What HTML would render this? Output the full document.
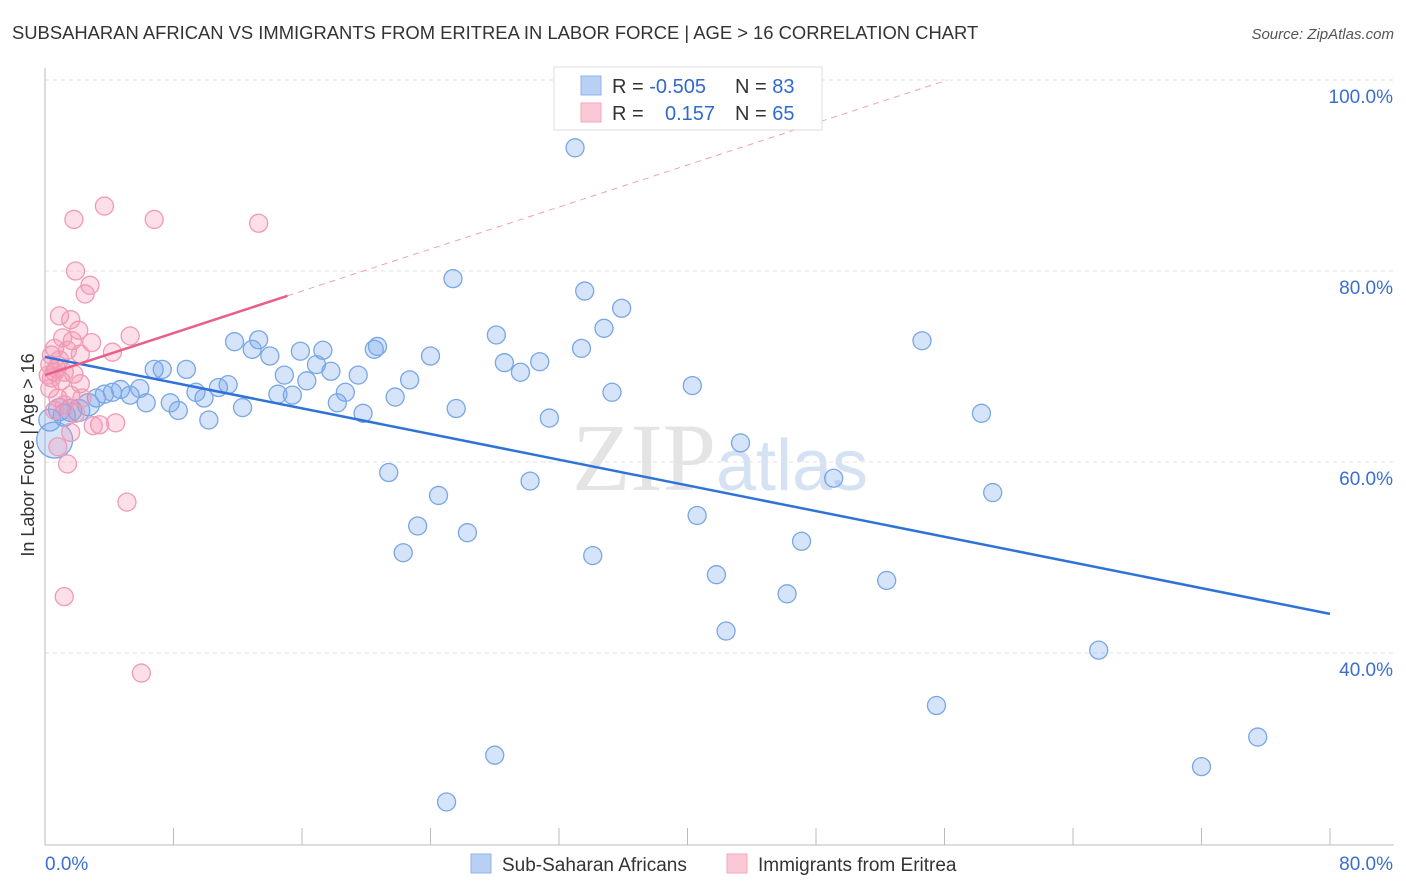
<!DOCTYPE html>
<html><head><meta charset="utf-8"><style>
body{margin:0;background:#fff;font-family:"Liberation Sans",sans-serif;}
svg{display:block}
</style></head><body>
<svg id="chart" width="1406" height="892">
<text x="12" y="39" font-size="18.4" fill="#333">SUBSAHARAN AFRICAN VS IMMIGRANTS FROM ERITREA IN LABOR FORCE | AGE &gt; 16 CORRELATION CHART</text>
<text x="1394" y="39" font-size="15" fill="#555" text-anchor="end" font-style="italic">Source: ZipAtlas.com</text>
<text x="720" y="490" font-size="96" fill="#e4e4e4" text-anchor="middle" font-family="Liberation Serif,serif">ZIP<tspan fill="#d4e2f4" font-family="Liberation Sans,sans-serif" font-size="72">atlas</tspan></text>
<g id="grid"></g><g id="axes"></g><g id="pts"></g><g id="lines"></g>
<text transform="translate(34,455) rotate(-90)" font-size="18" fill="#333" text-anchor="middle">In Labor Force | Age &gt; 16</text>
<g>
<rect x="554" y="67" width="268" height="63" fill="#fff" stroke="#ddd"/>
<rect x="581" y="76" width="20" height="19" fill="#b8d0f3" stroke="#8fb3e8"/>
<rect x="581" y="103" width="20" height="19" fill="#fbc8d6" stroke="#f4a6bd"/>
<text x="612" y="93" font-size="20" fill="#333">R = <tspan fill="#2f6ad0">-0.505</tspan><tspan x="735">N = </tspan><tspan fill="#2f6ad0">83</tspan></text>
<text x="612" y="120" font-size="20" fill="#333">R = <tspan x="665" fill="#2f6ad0">0.157</tspan><tspan x="735">N = </tspan><tspan fill="#2f6ad0">65</tspan></text>
</g>
<g>
<rect x="471" y="854" width="20" height="19" fill="#b8d0f3" stroke="#8fb3e8"/>
<text x="502" y="871" font-size="19" fill="#333">Sub-Saharan Africans</text>
<rect x="727" y="854" width="20" height="19" fill="#fbc8d6" stroke="#f4a6bd"/>
<text x="758" y="871" font-size="19" fill="#333">Immigrants from Eritrea</text>
</g>
</svg>
<script>
const blueX=[33.0,25.4,33.6,35.9,28.1,34.8,54.6,11.8,13.3,12.9,14.0,15.9,17.3,20.5,20.7,24.0,28.6,30.8,33.4,29.6,6.8,7.3,8.8,16.9,17.8,19.5,14.9,16.3,22.7,40.3,35.3,18.7,21.8,14.5,15.4,11.4,10.8,9.4,9.9,5.9,4.7,4.2,3.7,3.2,5.3,6.3,7.8,8.3,12.3,18.2,19.8,25.6,31.4,10.2,58.3,43.3,21.4,30.2,49.1,59.0,24.5,23.2,40.6,26.3,47.1,22.3,34.1,41.8,52.4,46.2,42.4,65.6,55.5,75.5,28.0,72.0,25.0,1.6,2.1,0.9,2.7,0.6,0.3,1.2];
const blueY=[92.9,79.2,77.9,76.1,73.3,74.0,72.7,72.6,72.8,71.8,71.1,71.6,71.7,71.8,72.1,71.1,70.4,70.5,71.9,69.4,69.7,69.7,69.7,70.2,69.5,69.1,69.1,68.5,68.6,68.0,67.3,67.3,66.8,67.1,67.0,68.1,67.8,67.3,66.7,67.7,67.6,67.3,67.1,66.7,67.0,66.2,66.2,65.4,65.7,66.2,65.1,65.6,64.6,64.4,65.1,62.0,58.9,58.0,58.3,56.8,56.5,53.3,54.4,52.6,51.7,50.5,50.2,48.2,47.6,46.2,42.3,40.3,34.5,31.2,29.3,28.1,24.4,65.4,65.4,65.5,66.0,62.3,64.4,64.9];
const pinkX=[1.8,3.7,6.8,13.3,1.9,2.8,2.5,0.9,1.6,2.1,5.3,1.1,1.7,2.9,4.2,2.2,0.6,1.4,0.4,0.9,0.3,0.7,1.2,1.8,0.4,1.0,2.2,0.3,1.6,0.8,2.3,1.2,0.6,1.9,3.4,3.0,4.4,1.6,0.8,1.4,5.1,1.2,6.0,0.6,0.2];
const pinkY=[85.4,86.8,85.4,85.0,80.0,78.5,77.6,75.3,74.9,73.8,73.2,73.0,72.7,72.5,71.5,71.3,71.9,71.7,71.2,70.7,70.2,69.8,69.4,69.2,68.8,68.5,68.2,67.7,67.0,66.7,66.7,66.0,65.4,65.1,63.9,63.8,64.1,63.1,61.6,59.8,55.8,45.9,37.9,69.4,69.1];
const yTicks=[40,60,80,100];
const xTickLabels=["0.0%","80.0%"];
const blueTrend=[71.0,44.1]; // at x=0, x=80
const pinkTrend=[69.1,0.55,15.1]; // intercept, slope, solid end x

const X=v=>45+v*1285/80, Y=v=>653-(v-40)*9.55;
const NS="http://www.w3.org/2000/svg";
function mk(tag,attrs,parent){const e=document.createElementNS(NS,tag);for(const k in attrs)e.setAttribute(k,attrs[k]);document.getElementById(parent).appendChild(e);return e;}
yTicks.forEach(t=>{
  const g=mk('line',{x1:45,x2:1394,y1:Y(t),y2:Y(t),stroke:'#e2e2e2','stroke-dasharray':'4,4'},'grid');
  
  
  const l=mk('text',{x:1393,y:Y(t)+23,'font-size':19,fill:'#3a6fd0','text-anchor':'end'},'grid');
  l.textContent=t.toFixed(1)+'%';
  
  
});
const ax=mk('line',{x1:45,x2:45,y1:68,y2:845,stroke:'#bbb'},'axes');


const bx=mk('line',{x1:45,x2:1394,y1:845,y2:845,stroke:'#bbb'},'axes');


for(let i=1;i<=10;i++){const t=mk('line',{x1:X(i*8),x2:X(i*8),y1:828,y2:845,stroke:'#bbb'},'axes');
  
  }
[[0,45,'start'],[80,1393,'end']].forEach((d,i)=>{const t=mk('text',{x:d[1],y:870,'font-size':19,fill:'#3a6fd0','text-anchor':d[2]},'axes');t.textContent=xTickLabels[i];
  
  });
blueX.forEach((x,i)=>{const r=(x<1&&blueY[i]<63)?18:(x<3?11:9);
  const c=mk('circle',{cx:X(x),cy:Y(blueY[i]),r:r,fill:'rgba(120,165,235,0.3)',stroke:'#78a6e6','stroke-width':1.3},'pts');
  
  });
pinkX.forEach((x,i)=>{
  const c=mk('circle',{cx:X(x),cy:Y(pinkY[i]),r:9,fill:'rgba(245,150,180,0.3)',stroke:'#f09ab5','stroke-width':1.3},'pts');
  
  });
const bl=mk('line',{x1:X(0),y1:Y(blueTrend[0]),x2:X(80),y2:Y(blueTrend[1]),stroke:'#2f72d8','stroke-width':2.5},'lines');


const xe=(100-pinkTrend[0])/pinkTrend[1];
const pd=mk('line',{x1:X(pinkTrend[2]),y1:Y(pinkTrend[0]+pinkTrend[1]*pinkTrend[2]),x2:X(xe),y2:Y(100),stroke:'#f0a0b8','stroke-width':1,'stroke-dasharray':'6,5'},'lines');


const pl=mk('line',{x1:X(0),y1:Y(pinkTrend[0]),x2:X(pinkTrend[2]),y2:Y(pinkTrend[0]+pinkTrend[1]*pinkTrend[2]),stroke:'#e8608a','stroke-width':2.5},'lines');


</script>
</body></html>
